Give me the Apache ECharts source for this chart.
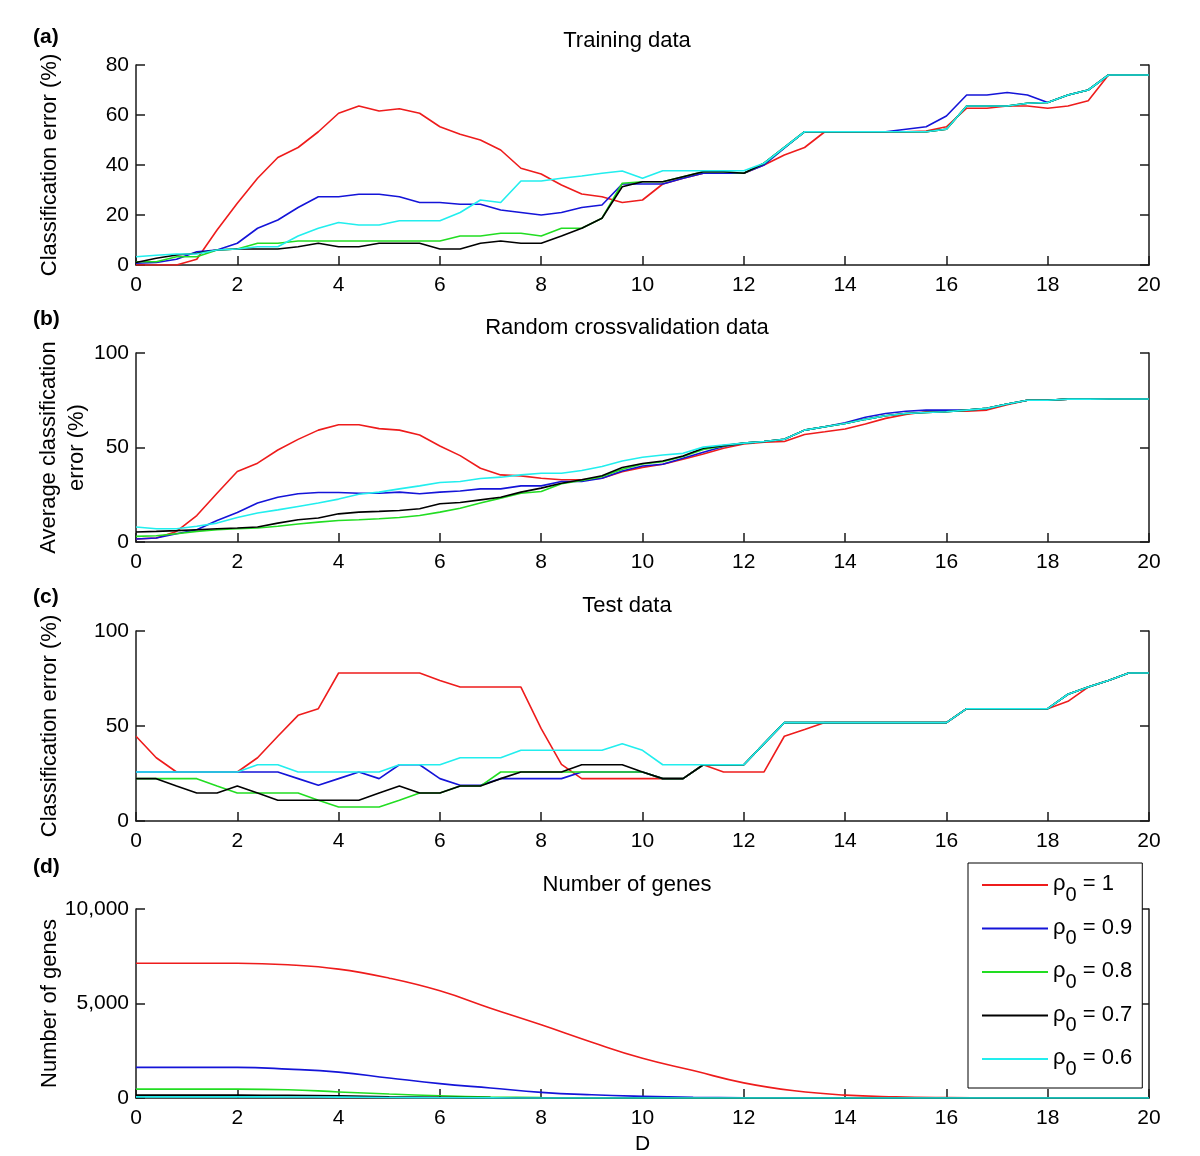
<!DOCTYPE html>
<html>
<head>
<meta charset="utf-8">
<script src="https://cdn.jsdelivr.net/npm/echarts@6/dist/echarts.min.js"></script>
<style>html,body{margin:0;padding:0;background:#fff;}#c{width:1200px;height:1156px;}</style>
</head>
<body>
<div id="c"></div>
<script>
// ---- data ----
const seriesNames = ['ρ0 = 1', 'ρ0 = 0.9', 'ρ0 = 0.8', 'ρ0 = 0.7', 'ρ0 = 0.6'];
const seriesColors = ['#ee1c1c', '#1414d8', '#22dd22', '#000000', '#22eeee'];
const panelTitles = ['Training data', 'Random crossvalidation data', 'Test data', 'Number of genes'];
const panelLetters = ['(a)', '(b)', '(c)', '(d)'];
const yNames = ['Classification error (%)', 'Average classification\nerror (%)', 'Classification error (%)', 'Number of genes'];
const xTicks = [0, 2, 4, 6, 8, 10, 12, 14, 16, 18, 20];

const xs = [0,0.4,0.8,1.2,1.6,2,2.4,2.8,3.2,3.6,4,4.4,4.8,5.2,5.6,6,6.4,6.8,7.2,7.6,8,8.4,8.8,9.2,9.6,10,
            10.4,10.8,11.2,11.6,12,12.4,12.8,13.2,13.6,14,14.4,14.8,15.2,15.6,16,16.4,16.8,17.2,17.6,18,18.4,18.8,19.2,19.6,20];
const xsGenes = [0,1,2,3,4,5,6,7,8,9,10,11,12,13,14,15,16,17,18,19,20];

// (a) Training data
const trainRed   = [0,0,0,2.3,14,24.7,34.7,43,47,53.3,60.7,63.6,61.6,62.5,60.7,55.3,52.3,50,46,38.7,36.4,32,28.4,27.3,25,26,
                    32.4,34.7,36.7,36.7,36.7,40,44,47,53.3,53.3,53.3,53.3,53.3,53.6,55.3,62.7,62.7,63.6,63.6,62.7,63.6,65.7,76,76,76];
const trainBlue  = [0.7,1,2.3,5.3,6,8.7,14.7,18,23,27.3,27.3,28.3,28.3,27.3,25,25,24.3,24.3,22,21,20,21,23,24,32.4,32.4,
                    32.4,34.7,36.7,36.7,36.7,40,46.7,53.3,53.3,53.3,53.3,53.3,54.3,55.3,59.6,68,68,69,68,65,68,70,76,76,76];
const trainGreen = [1.3,1.3,3.3,3.3,6,6.4,8.7,8.7,9.6,9.6,9.6,9.6,9.6,9.6,9.6,9.6,11.6,11.6,12.7,12.7,11.6,14.7,14.7,18.7,32.7,33.3,
                    33.3,35.3,37.3,37.3,36.7,40.7,47,53.3,53.3,53.3,53.3,53.3,53.3,53.3,54.3,63.6,63.6,63.6,64.7,65,68,70,76,76,76];
const trainBlack = [1,2.7,4,4.7,6,6.4,6.4,6.4,7.3,8.7,7.3,7.3,8.7,8.7,8.7,6.4,6.4,8.7,9.6,8.7,8.7,11.6,14.7,18.7,31.3,33.3,
                    33.3,35.3,37.3,37.3,36.7,40.7,47,53.3,53.3,53.3,53.3,53.3,53.3,53.3,54.3,63.6,63.6,63.6,64.7,65,68,70,76,76,76];
const trainCyan  = [3.3,3.9,4.4,4.4,6,6.4,7.3,7.3,11.6,14.7,17,16,16,17.7,17.7,17.7,21,26,25,33.6,33.6,34.7,35.6,36.7,37.6,34.7,
                    37.7,37.7,37.7,37.7,37.7,40.7,47,53.3,53.3,53.3,53.3,53.3,53.3,53.3,54.3,63.6,63.6,63.6,64.7,65,68,70,76,76,76];

// (b) Random crossvalidation data
const cvRed   = [1.6,2.1,5.6,14,25.8,37.3,41.7,48.7,54.3,59.2,62,62,60,59.2,56.6,50.8,45.7,39,35.5,35,33.7,32.9,32.9,33.7,37.2,39.5,
                 41.1,43.8,46.6,49.6,51.9,52.8,53.2,56.9,58.3,59.8,62.4,65.4,67.5,68.9,69.2,69.2,69.8,72.6,75,75,75.6,75.6,75.7,75.7,75.7];
const cvBlue  = [1.6,2.1,4.4,6.5,11.4,15.6,20.6,23.7,25.5,26.2,26.2,25.8,25.8,26.4,25.5,26.4,27,28.1,28.1,29.7,29.7,32,32,33.7,37.6,40.2,
                 41.1,44.3,47.5,50.5,52.3,53.2,54.4,59.2,61,63.1,66,68,69.2,69.8,69.8,69.8,70.7,73,75,75,75.6,75.6,75.7,75.7,75.7];
const cvGreen = [3,3.3,4.4,5.6,6.5,7,7.4,8.3,9.5,10.5,11.4,11.8,12.3,13,14,15.8,17.9,20.6,23.2,25.8,26.7,30.8,32.5,34.6,38.5,41.3,
                 42.5,45.2,49,50.8,52.3,53.2,54.4,59.2,61,62.7,64.9,66.8,68,68.5,68.9,69.8,70.7,73,75,75,75.6,75.6,75.7,75.7,75.7];
const cvBlack = [5.3,5.6,6,6.5,7,7.4,7.9,10,11.8,12.7,14.9,15.8,16.2,16.7,17.6,20.2,20.9,22.3,23.7,26.4,28.5,31.1,32.9,35.1,39.4,41.5,
                 42.9,45.5,49.6,51,52.3,53.2,54.4,59.2,61,62.7,64.9,66.8,68,68.5,68.9,69.8,70.7,73,75,75,75.6,75.6,75.7,75.7,75.7];
const cvCyan  = [7.9,7,7,8.3,10,13,15.3,17,18.8,20.6,22.7,25.3,26.4,28.1,29.7,31.5,32,33.6,34.3,35.5,36.4,36.4,37.8,39.9,42.9,44.8,
                 46,46.9,50.2,51.3,52.3,53.2,54.4,59.2,61,62.7,64.9,66.8,68,68.5,68.9,69.8,70.7,73,75,75,75.6,75.6,75.7,75.7,75.7];

// (c) Test data
const testRed   = [44.6,33.3,25.8,25.8,25.8,25.8,33.3,44.6,55.6,59.1,77.9,77.9,77.9,77.9,77.9,74,70.5,70.5,70.5,70.5,48.6,29.8,22.3,22.3,22.3,22.3,
                   22.3,22.3,29.6,25.8,25.8,25.8,44.6,48.1,51.8,51.8,51.8,51.8,51.8,51.8,51.8,59.1,59.1,59.1,59.1,59.1,63,70.5,74,77.9,77.9];
const testBlue  = [25.8,25.8,25.8,25.8,25.8,25.8,25.8,25.8,22.3,18.8,22.3,25.8,22.3,29.6,29.6,22.3,18.8,18.8,22.3,22.3,22.3,22.3,25.8,25.8,25.8,25.8,
                   22.3,22.3,29.6,29.6,29.6,40.7,51.8,51.8,51.8,51.8,51.8,51.8,51.8,51.8,51.8,59.1,59.1,59.1,59.1,59.1,66.7,70.5,74,77.9,77.9];
const testGreen = [22.3,22.3,22.3,22.3,18.4,14.7,14.7,14.7,14.7,10.9,7.4,7.4,7.4,10.9,14.7,14.7,18.4,18.4,25.8,25.8,25.8,25.8,25.8,25.8,25.8,25.8,
                   22.3,22.3,29.6,29.6,29.6,40.7,51.8,51.8,51.8,51.8,51.8,51.8,51.8,51.8,51.8,59.1,59.1,59.1,59.1,59.1,66.7,70.5,74,77.9,77.9];
const testBlack = [22.3,22.3,18.4,14.7,14.7,18.4,14.7,10.9,10.9,10.9,10.9,10.9,14.7,18.4,14.7,14.7,18.4,18.4,22.3,25.8,25.8,25.8,29.6,29.6,29.6,25.8,
                   22.3,22.3,29.6,29.6,29.6,40.7,51.8,51.8,51.8,51.8,51.8,51.8,51.8,51.8,51.8,59.1,59.1,59.1,59.1,59.1,66.7,70.5,74,77.9,77.9];
const testCyan  = [25.8,25.8,25.8,25.8,25.8,25.8,29.6,29.6,25.8,25.8,25.8,25.8,25.8,29.6,29.6,29.6,33.3,33.3,33.3,37.2,37.2,37.2,37.2,37.2,40.7,37.2,
                   29.6,29.6,29.6,29.6,29.6,40.7,51.8,51.8,51.8,51.8,51.8,51.8,51.8,51.8,51.8,59.1,59.1,59.1,59.1,59.1,66.7,70.5,74,77.9,77.9];

// (d) Number of genes
const genesRed   = [7130,7130,7130,7050,6820,6340,5670,4750,3870,2950,2100,1450,800,380,150,60,20,5,0,0,0];
const genesBlue  = [1620,1620,1620,1530,1370,1060,760,530,300,170,90,40,15,5,0,0,0,0,0,0,0];
const genesGreen = [470,470,470,440,320,210,120,55,20,5,0,0,0,0,0,0,0,0,0,0,0];
const genesBlack = [150,150,150,140,110,70,40,20,10,0,0,0,0,0,0,0,0,0,0,0,0];
const genesCyan  = [60,60,60,55,45,30,15,8,0,0,0,0,0,0,0,0,0,0,0,0,0];

const yMax = [80, 100, 100, 10000];
const yInterval = [20, 50, 50, 5000];

// ---- chart ----
const panelData = [
  [trainRed, trainBlue, trainGreen, trainBlack, trainCyan],
  [cvRed, cvBlue, cvGreen, cvBlack, cvCyan],
  [testRed, testBlue, testGreen, testBlack, testCyan],
  [genesRed, genesBlue, genesGreen, genesBlack, genesCyan]
];
const gridTops = [65, 353, 631, 909];
const gridHeights = [200, 189, 190, 189];
const titleTops = [30, 317, 595, 874];
const letterTops = [27, 309, 587, 857];
const nameGaps = [72, 45, 72, 72];
const FONT = 'Liberation Sans, Arial, Helvetica, sans-serif';
const axisColor = '#1a1a1a';

const grids = [], xAxes = [], yAxes = [], series = [], titles = [];
for (let p = 0; p < 4; p++) {
  grids.push({ left: 136, right: 51, top: gridTops[p], height: gridHeights[p], containLabel: false });
  xAxes.push({
    type: 'value', gridIndex: p, min: 0, max: 20, interval: 2,
    axisLine: { show: true, lineStyle: { color: axisColor, width: 1.5 } },
    axisTick: { show: true, inside: true, length: 9, lineStyle: { color: axisColor, width: 1.5 } },
    axisLabel: { color: '#000', fontSize: 21, fontFamily: FONT, margin: 10,
                 formatter: v => (xTicks.indexOf(v) >= 0 ? String(v) : '') },
    splitLine: { show: false },
    name: p === 3 ? 'D' : '', nameLocation: 'middle', nameGap: 36, nameMoveOverlap: false,
    nameTextStyle: { color: '#000', fontSize: 21, fontFamily: FONT }
  });
  yAxes.push({
    type: 'value', gridIndex: p, min: 0, max: yMax[p], interval: yInterval[p], position: 'left',
    axisLine: { show: true, lineStyle: { color: axisColor, width: 1.5 } },
    axisTick: { show: true, inside: true, length: 9, lineStyle: { color: axisColor, width: 1.5 } },
    axisLabel: { color: '#000', fontSize: 21, fontFamily: FONT, margin: 7,
                 formatter: v => p === 3 ? v.toLocaleString('en-US') : String(v) },
    splitLine: { show: false },
    name: yNames[p], nameLocation: 'middle', nameGap: nameGaps[p], nameMoveOverlap: false,
    nameTextStyle: { color: '#000', fontSize: 22, fontFamily: FONT, lineHeight: 28 }
  });
  yAxes.push({
    type: 'value', gridIndex: p, min: 0, max: yMax[p], interval: yInterval[p], position: 'right',
    axisLine: { show: true, lineStyle: { color: axisColor, width: 1.5 } },
    axisTick: { show: true, inside: true, length: 9, lineStyle: { color: axisColor, width: 1.5 } },
    axisLabel: { show: false }, splitLine: { show: false }
  });
  titles.push({ text: panelTitles[p], left: 627, top: titleTops[p], textAlign: 'center', padding: 0,
                textStyle: { color: '#000', fontSize: 22, fontWeight: 'normal', fontFamily: FONT } });
  titles.push({ text: panelLetters[p], left: 33, top: letterTops[p], padding: 0,
                textStyle: { color: '#000', fontSize: 21, fontWeight: 'bold', fontFamily: FONT } });
  const xv = p === 3 ? xsGenes : xs;
  for (let r = 0; r < 5; r++) {
    const vals = panelData[p][r];
    series.push({
      type: 'line', name: seriesNames[r], xAxisIndex: p, yAxisIndex: p * 2,
      data: vals.map((v, i) => [xv[i], v]),
      symbol: 'none', showSymbol: false,
      smooth: p === 3 ? 0.45 : false,
      lineStyle: { color: seriesColors[r], width: 1.6 },
      itemStyle: { color: seriesColors[r] },
      animation: false
    });
  }
}

const chart = echarts.init(document.getElementById('c'), null, { renderer: 'canvas' });
chart.setOption({
  backgroundColor: '#fff',
  animation: false,
  title: titles,
  grid: grids,
  xAxis: xAxes,
  yAxis: yAxes,
  legend: {
    data: seriesNames.map((n, i) => ({ name: n, icon: 'rect', itemStyle: { color: seriesColors[i] } })),
    orient: 'vertical', left: 968, top: 863,
    padding: [10, 10, 9, 14], itemGap: 11.5, itemWidth: 66, itemHeight: 2,
    backgroundColor: '#fff', borderColor: '#000', borderWidth: 1, borderRadius: 0,
    z: 10,
    formatter: n => '{r|ρ}{s|0}{r| = ' + n.split('= ')[1] + '}',
    textStyle: {
      color: '#000', fontFamily: FONT,
      rich: {
        r: { fontSize: 22, fontFamily: FONT, color: '#000', lineHeight: 24, verticalAlign: 'top' },
        s: { fontSize: 20, fontFamily: FONT, color: '#000', lineHeight: 24, verticalAlign: 'top', padding: [12, 0, 0, 0] }
      }
    }
  },
  series: series
});
</script>
</body>
</html>
